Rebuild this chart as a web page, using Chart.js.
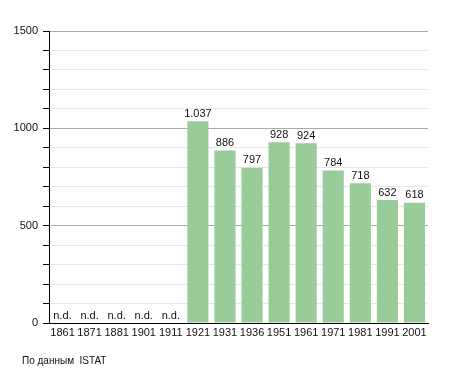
<!DOCTYPE html>
<html>
<head>
<meta charset="utf-8">
<script src="https://cdn.jsdelivr.net/npm/chart.js@4/dist/chart.umd.min.js"></script>
<style>
  html, body { margin: 0; padding: 0; background: #fff; }
  #wrap { position: relative; width: 455px; height: 373px; }
  #fonte { position: absolute; left: 22px; top: 355px; font: 10px "Liberation Sans", Arial, sans-serif; color: #111; }
</style>
</head>
<body>
<div id="wrap">
  <canvas id="myChart" width="455" height="373"></canvas>
  <div id="fonte">По данным&nbsp; ISTAT</div>
</div>
<script>
// dati del censimento
const anni = ['1861', '1871', '1881', '1901', '1911', '1921', '1931', '1936', '1951', '1961', '1971', '1981', '1991', '2001'];
const abitanti = [null, null, null, null, null, 1037, 886, 797, 928, 924, 784, 718, 632, 618];
const tickMaggiori = [0, 500, 1000, 1500];

const formatNumero = (n) => String(n).replace(/\B(?=(\d{3})+(?!\d))/g, '.');

// etichette sopra le barre
const etichette = {
  id: 'etichette',
  afterDatasetsDraw(chart) {
    let ctx = chart.ctx;
    let meta = chart.getDatasetMeta(0);
    let base = chart.scales.y.getPixelForValue(0);
    ctx.save();
    ctx.font = '11px "Liberation Sans", Arial, sans-serif';
    ctx.fillStyle = '#111';
    ctx.textAlign = 'center';
    ctx.textBaseline = 'bottom';
    meta.data.forEach((bar, i) => {
      let v = abitanti[i];
      if (v == null) {
        ctx.fillText('n.d.', bar.x, base - 2);
      } else {
        ctx.fillText(formatNumero(v), bar.x, bar.y - 2);
      }
    });
    ctx.restore();
  }
};

let ctx = document.getElementById('myChart').getContext('2d');
let chart = new Chart(ctx, {
  type: 'bar',
  data: {
    labels: anni,
    datasets: [{
      data: abitanti,
      backgroundColor: 'rgb(153, 204, 153)',
      borderWidth: 0,
      barPercentage: 0.78,
      categoryPercentage: 1
    }]
  },
  options: {
    responsive: false,
    animation: false,
    layout: { padding: { top: 31, right: 27, bottom: 0, left: 0 } },
    plugins: { legend: { display: false }, tooltip: { enabled: false } },
    scales: {
      x: {
        grid: { display: false, drawTicks: false, tickLength: 0 },
        border: { display: true, color: '#000', width: 1 },
        ticks: {
          color: '#111',
          padding: 3,
          maxRotation: 0,
          autoSkip: false,
          font: { family: '"Liberation Sans", Arial, sans-serif', size: 11 }
        },
        afterFit: (scale) => { scale.height = 50; }
      },
      y: {
        min: 0,
        max: 1500,
        grid: {
          color: (c) => tickMaggiori.includes(c.tick.value) ? '#aaaaaa' : '#e6e6e6',
          tickColor: '#000',
          tickLength: 6
        },
        border: { display: true, color: '#000', width: 1 },
        ticks: {
          stepSize: 100,
          padding: 5,
          color: '#111',
          autoSkip: false,
          font: { family: '"Liberation Sans", Arial, sans-serif', size: 11 },
          callback: (v) => tickMaggiori.includes(v) ? String(v) : ''
        },
        afterFit: (scale) => { scale.width = 49; }
      }
    }
  },
  plugins: [etichette]
});
</script>
</body>
</html>
